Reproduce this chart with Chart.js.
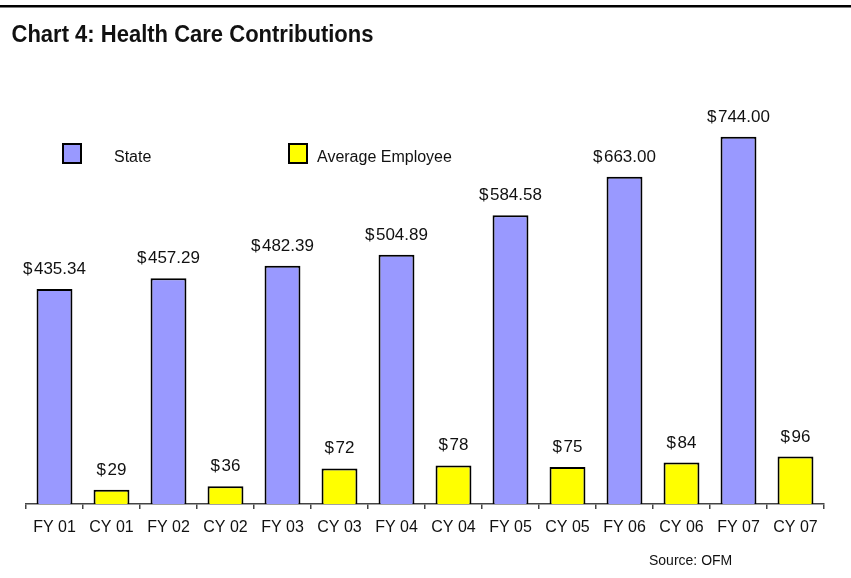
<!DOCTYPE html>
<html>
<head>
<meta charset="utf-8">
<script src="https://cdn.jsdelivr.net/npm/chart.js@4"></script>
<style>
  html, body { margin: 0; padding: 0; background: #fff; }
  #wrap { position: relative; width: 851px; height: 578px; }
</style>
</head>
<body>
<div id="wrap"><canvas id="bar-chart" width="851" height="578"></canvas></div>
<script>
const categories = ['FY 01', 'CY 01', 'FY 02', 'CY 02', 'FY 03', 'CY 03', 'FY 04', 'CY 04', 'FY 05', 'CY 05', 'FY 06', 'CY 06', 'FY 07', 'CY 07'];
const stateValues = [435.34, 457.29, 482.39, 504.89, 584.58, 663.00, 744.00];
const employeeValues = [29, 36, 72, 78, 75, 84, 96];
const seriesNames = ['State', 'Average Employee'];
const chartTitle = 'Chart 4: Health Care Contributions';
const sourceNote = 'Source: OFM';

const FONT = '"Liberation Sans", Arial, sans-serif';

// FY columns hold the state value, CY columns the employee value
const stateData = categories.map((c, i) => (i % 2 === 0 ? stateValues[i / 2] : null));
const employeeData = categories.map((c, i) => (i % 2 === 1 ? employeeValues[(i - 1) / 2] : null));

// title, rule, legend and source note
const decorPlugin = {
  id: 'decor',
  afterDraw(chart) {
    const ctx = chart.ctx;
    ctx.save();
    ctx.fillStyle = '#000';
    ctx.fillRect(0, 5, chart.width, 2.5);

    // title is a condensed bold face; squeeze Liberation Sans to the same width
    ctx.font = 'bold 23px ' + FONT;
    ctx.fillStyle = '#111';
    ctx.textBaseline = 'alphabetic';
    const w = ctx.measureText(chartTitle).width;
    ctx.save();
    ctx.translate(11.5, 41.5);
    ctx.scale(362 / w, 1);
    ctx.fillText(chartTitle, 0, 0);
    ctx.restore();

    const legendPos = [{ box: 63, text: 114 }, { box: 289, text: 317 }];
    chart.data.datasets.forEach((ds, i) => {
      const p = legendPos[i];
      ctx.fillStyle = ds.backgroundColor;
      ctx.fillRect(p.box, 144, 18, 19);
      ctx.lineWidth = 2;
      ctx.strokeStyle = '#000';
      ctx.strokeRect(p.box, 144, 18, 19);
      ctx.fillStyle = '#111';
      ctx.font = '16px ' + FONT;
      ctx.fillText(ds.label, p.text, 162);
    });

    ctx.font = '14px ' + FONT;
    ctx.fillText(sourceNote, 649, 565);
    ctx.restore();
  }
};

// dollar labels above each bar
const valueLabels = {
  id: 'valueLabels',
  afterDatasetsDraw(chart) {
    const ctx = chart.ctx;
    ctx.save();
    ctx.font = '17px ' + FONT;
    ctx.fillStyle = '#111';
    ctx.textAlign = 'center';
    ctx.textBaseline = 'alphabetic';
    chart.data.datasets.forEach((ds, di) => {
      chart.getDatasetMeta(di).data.forEach((bar, i) => {
        const v = ds.data[i];
        if (v === null) return;
        const txt = '$\u200A' + (di === 0 ? v.toFixed(2) : String(v));
        ctx.fillText(txt, bar.x, bar.y - 15);
      });
    });
    ctx.restore();
  }
};

function createBarChart() {
  const ctx = document.getElementById('bar-chart').getContext('2d');
  new Chart(ctx, {
    type: 'bar',
    data: {
      labels: categories,
      datasets: [
        {
          label: seriesNames[0],
          data: stateData,
          backgroundColor: '#9999FF',
          borderColor: '#000',
          borderWidth: 2,
        },
        {
          label: seriesNames[1],
          data: employeeData,
          backgroundColor: '#FFFF00',
          borderColor: '#000',
          borderWidth: 2,
        },
      ],
    },
    options: {
      responsive: false,
      animation: false,
      barPercentage: 0.63,
      categoryPercentage: 1,
      layout: { padding: { left: 26, right: 27, top: 109, bottom: 0 } },
      plugins: {
        legend: { display: false },
        tooltip: { enabled: false },
      },
      scales: {
        x: {
          stacked: true,
          offset: true,
          grid: { offset: true, drawOnChartArea: false, tickLength: 5, color: '#444', lineWidth: 1.5 },
          border: { color: '#444', width: 1.5 },
          ticks: { color: '#111', font: { family: FONT, size: 16 }, padding: 9, maxRotation: 0, autoSkip: false },
          afterFit: (scale) => { scale.height = 74; },
        },
        y: {
          stacked: true,
          display: false,
          min: 0,
          max: 800,
        },
      },
    },
    plugins: [valueLabels, decorPlugin],
  });
}

document.addEventListener('DOMContentLoaded', () => {
  createBarChart();
});
</script>
</body>
</html>
